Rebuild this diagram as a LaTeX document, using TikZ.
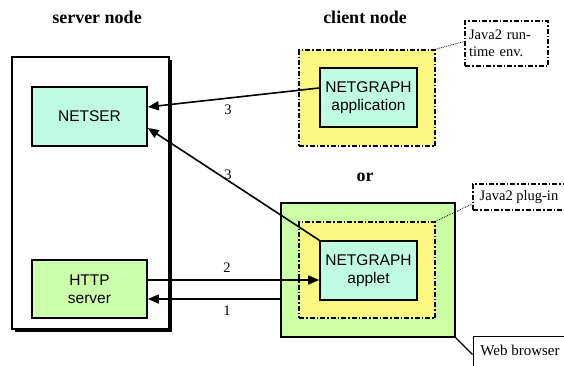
\documentclass[tikz,border=0pt]{standalone}
\usepackage{fontspec}
\setmainfont{Liberation Serif}
\newfontfamily\arialf{Liberation Sans}
\usetikzlibrary{arrows.meta,calc}
\definecolor{mint}{RGB}{192,252,224}
\definecolor{lgreen}{RGB}{204,255,170}
\definecolor{lyellow}{RGB}{250,248,128}
\definecolor{bgreen}{RGB}{204,255,165}
\tikzset{
  compbox/.style={draw=black, line width=1.6pt, align=center, inner sep=0pt,
    font=\arialf\fontsize{15.5}{17.5}\selectfont},
  dashdotline/.style={dash pattern=on 5pt off 2pt on 1.5pt off 2pt},
  envbox/.style={draw=black, line width=1.6pt, dashdotline, fill=lyellow, inner sep=0pt},
  notebox/.style={draw=black, line width=1.6pt, dashdotline, fill=white, inner sep=0pt,
    align=left, font=\fontsize{14.5}{17}\selectfont},
  title/.style={font=\bfseries\fontsize{18}{20}\selectfont},
  lbl/.style={font=\fontsize{14.5}{16}\selectfont},
  conn/.style={line width=1.6pt, -{Triangle[length=11pt,width=9pt]}},
  callout/.style={densely dotted, line width=0.8pt},
}
\begin{document}
\begin{tikzpicture}[x=1pt,y=-1pt]
\useasboundingbox (0,0) rectangle (564,365);
% titles
\node[title] (tserver) at (97,17) {server node};
\node[title] (tclient) at (365,17) {client node};
\node[title] (tor) at (365,177) {or};
% server node box with shadow
\draw[line width=4pt] (15,330) -- (170,330) -- (170,60);
\node[draw=black, line width=1.5pt, fill=white, minimum width=157pt, minimum height=272pt, inner sep=0pt] (server) at (90.5,193) {};
\node[compbox, fill=mint, minimum width=115pt, minimum height=59pt] (netser) at (89.5,116.5) {NETSER};
\node[compbox, fill=lgreen, minimum width=115pt, minimum height=58pt] (http) at (89.5,289) {HTTP\\server};
% client application
\node[envbox, minimum width=136pt, minimum height=96pt] (jre) at (367,98) {};
\node[compbox, fill=mint, minimum width=97pt, minimum height=59pt] (app) at (368.5,97.5) {NETGRAPH\\application};
\node[notebox, minimum width=83pt, minimum height=45pt, text width=75pt] (jrenote) at (506.5,43.5) {Java2 run-\\time env.};
\draw[callout] (jre.north east) -- ([yshift=2pt]jrenote.west);
% browser
\node[draw=black, line width=1.2pt, fill=bgreen, minimum width=174pt, minimum height=134pt, inner sep=0pt] (browser) at (368,270) {};
\node[envbox, minimum width=136pt, minimum height=96pt] (plug) at (367,270) {};
\node[compbox, fill=mint, minimum width=97pt, minimum height=59pt] (applet) at (368.5,270.5) {NETGRAPH\\applet};
\node[notebox, minimum width=92pt, minimum height=26pt] (plugnote) at (519,197) {Java2 plug-in};
\draw[callout] (plug.north east) -- ([yshift=-7pt]plugnote.west);
\node[draw=black, line width=1pt, fill=white, minimum width=94pt, minimum height=31pt, inner sep=0pt, font=\fontsize{15}{17}\selectfont] (webnote) at (520,351.5) {Web browser\vphantom{g}};
\draw[line width=1.2pt] (browser.south east) -- ([yshift=-3pt]webnote.west);
% connectors
\draw[conn] ([yshift=9.5pt]app.west) -- ([yshift=9.5pt]netser.east);
\draw[conn] (applet.north west) -- ([yshift=-11.5pt]netser.east);
\draw[conn] ([yshift=9pt]http.east) -- ([yshift=9pt]http.east -| applet.west);
\draw[conn] ([yshift=-10pt]http.east -| browser.west) -- ([yshift=-10pt]http.east);
% labels
\node[lbl] (l3a) at (228,110) {3};
\node[lbl] (l3b) at (228,175) {3};
\node[lbl] (l2) at (227,268) {2};
\node[lbl] (l1) at (227,311) {1};
\end{tikzpicture}
\end{document}
